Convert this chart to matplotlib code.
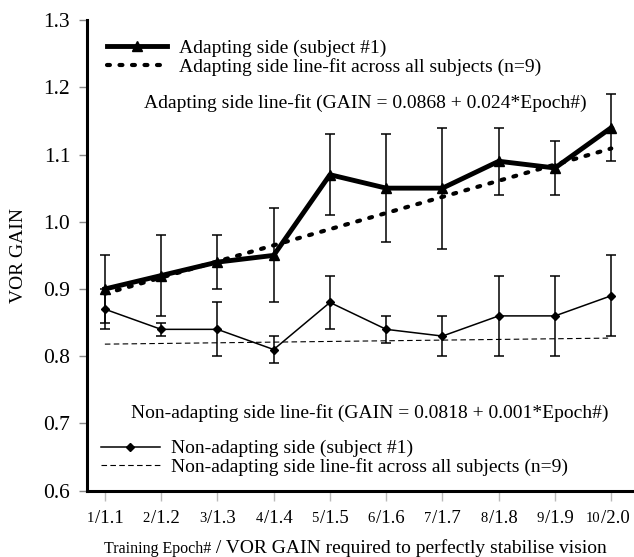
import matplotlib
matplotlib.use("Agg")
import matplotlib.pyplot as plt
import matplotlib.transforms as mtransforms

plt.rcParams['font.family'] = ['Liberation Serif', 'DejaVu Serif']

epochs = [1, 2, 3, 4, 5, 6, 7, 8, 9, 10]
required_gain = ['1.1', '1.2', '1.3', '1.4', '1.5', '1.6', '1.7', '1.8', '1.9', '2.0']

adapt_gain = [0.90, 0.92, 0.94, 0.95, 1.07, 1.05, 1.05, 1.09, 1.08, 1.14]
adapt_hi = [0.95, 0.98, 0.98, 1.02, 1.13, 1.13, 1.14, 1.14, 1.12, 1.19]
adapt_lo = [0.85, 0.86, 0.90, 0.88, 1.01, 0.97, 0.96, 1.04, 1.04, 1.09]

nonadapt_gain = [0.87, 0.84, 0.84, 0.81, 0.88, 0.84, 0.83, 0.86, 0.86, 0.89]
nonadapt_hi = [0.90, 0.85, 0.88, 0.83, 0.92, 0.86, 0.86, 0.92, 0.92, 0.95]
nonadapt_lo = [0.84, 0.83, 0.80, 0.79, 0.84, 0.82, 0.80, 0.80, 0.80, 0.83]

fit_epochs = [1, 10]
adapt_fit = [0.893, 1.109]
nonadapt_fit = [0.818, 0.827]

yticks = [0.6, 0.7, 0.8, 0.9, 1.0, 1.1, 1.2, 1.3]
ytick_labels = ['0.6', '0.7', '0.8', '0.9', '1.0', '1.1', '1.2', '1.3']

fig = plt.figure(figsize=(6.34, 5.57), dpi=100)
ax = fig.add_axes([0.137, 0.119, 0.86, 0.845])

a_err = [[g - l for g, l in zip(adapt_gain, adapt_lo)], [h - g for g, h in zip(adapt_gain, adapt_hi)]]
n_err = [[g - l for g, l in zip(nonadapt_gain, nonadapt_lo)], [h - g for g, h in zip(nonadapt_gain, nonadapt_hi)]]
ax.errorbar(epochs, adapt_gain, yerr=a_err, fmt='none', ecolor='black', elinewidth=1.1, capsize=3.6, capthick=1.1, zorder=2)
ax.errorbar(epochs, nonadapt_gain, yerr=n_err, fmt='none', ecolor='black', elinewidth=1.1, capsize=3.6, capthick=1.1, zorder=2)

l_adapt, = ax.plot(epochs, adapt_gain, color='black', lw=3.5, marker='^', markersize=6.5, zorder=4)
l_afit, = ax.plot(fit_epochs, adapt_fit, color='black', lw=3.0, linestyle=(0, (0.7, 2.3)),
                  dash_capstyle='round', zorder=3)
l_non, = ax.plot(epochs, nonadapt_gain, color='black', lw=1.1, marker='D', markersize=4, zorder=4)
l_nfit, = ax.plot(fit_epochs, nonadapt_fit, color='black', lw=0.8, linestyle=(0, (5, 3)), zorder=3)

ax.set_xlim(0.68, 10.37)
ax.set_ylim(0.6, 1.3)
ax.set_yticks(yticks)
ax.set_yticklabels(ytick_labels, fontsize=15.5)
ax.set_xticks(epochs)
ax.set_xticklabels([''] * len(epochs))
ax.tick_params(axis='y', direction='out', length=6, width=1.0, color='#888888', pad=6)
ax.tick_params(axis='x', direction='out', length=7, width=1.0, color='#bbbbbb', pad=2)

for s in ['top', 'right']:
    ax.spines[s].set_visible(False)
ax.spines['left'].set_linewidth(2.2)
ax.spines['bottom'].set_linewidth(2.2)

# compound x tick labels
trans = mtransforms.blended_transform_factory(ax.transData, ax.transAxes)
for e, r in zip(epochs, required_gain):
    ax.text(e, -0.058, '/' + r, transform=mtransforms.offset_copy(trans, fig=fig, x=-7.3, y=0, units='points'),
            ha='left', va='center', fontsize=13.5)
    ax.text(e, -0.058, str(e), transform=mtransforms.offset_copy(trans, fig=fig, x=-8.0, y=0, units='points'),
            ha='right', va='center', fontsize=10.5)

# compound x label, centred under the axis
t_small = fig.text(0, 0.007, 'Training Epoch#', ha='left', va='baseline', fontsize=11.5)
t_big = fig.text(0, 0.007, ' / VOR GAIN required to perfectly stabilise vision', ha='left', va='baseline', fontsize=14)
renderer = fig.canvas.get_renderer()
w1 = t_small.get_window_extent(renderer).width
w2 = t_big.get_window_extent(renderer).width
cx = 355.0
x0 = cx - (w1 + w2) / 2
t_small.set_x(x0 / fig.bbox.width)
t_big.set_x((x0 + w1) / fig.bbox.width)

ax.set_ylabel('VOR GAIN', fontsize=14, labelpad=12)

leg1 = ax.legend([l_adapt, l_afit], ['Adapting side (subject #1)',
                                     'Adapting side line-fit across all subjects (n=9)'],
                 loc='upper left', bbox_to_anchor=(0.022, 0.975), frameon=False, fontsize=14,
                 handlelength=3.1, handletextpad=0.6, labelspacing=0.05, borderaxespad=0)
ax.add_artist(leg1)
ax.legend([l_non, l_nfit], ['Non-adapting side (subject #1)',
                            'Non-adapting side line-fit across all subjects (n=9)'],
          loc='lower left', bbox_to_anchor=(0.012, 0.014), frameon=False, fontsize=14,
          handlelength=3.0, handletextpad=0.6, labelspacing=0.05, borderaxespad=0)

ax.text(0.51, 0.824, 'Adapting side line-fit (GAIN = 0.0868 + 0.024*Epoch#)', transform=ax.transAxes,
        ha='center', va='center', fontsize=14)
ax.text(0.519, 0.164, 'Non-adapting side line-fit (GAIN = 0.0818 + 0.001*Epoch#)', transform=ax.transAxes,
        ha='center', va='center', fontsize=14)

fig.savefig('out.png', dpi=100)
